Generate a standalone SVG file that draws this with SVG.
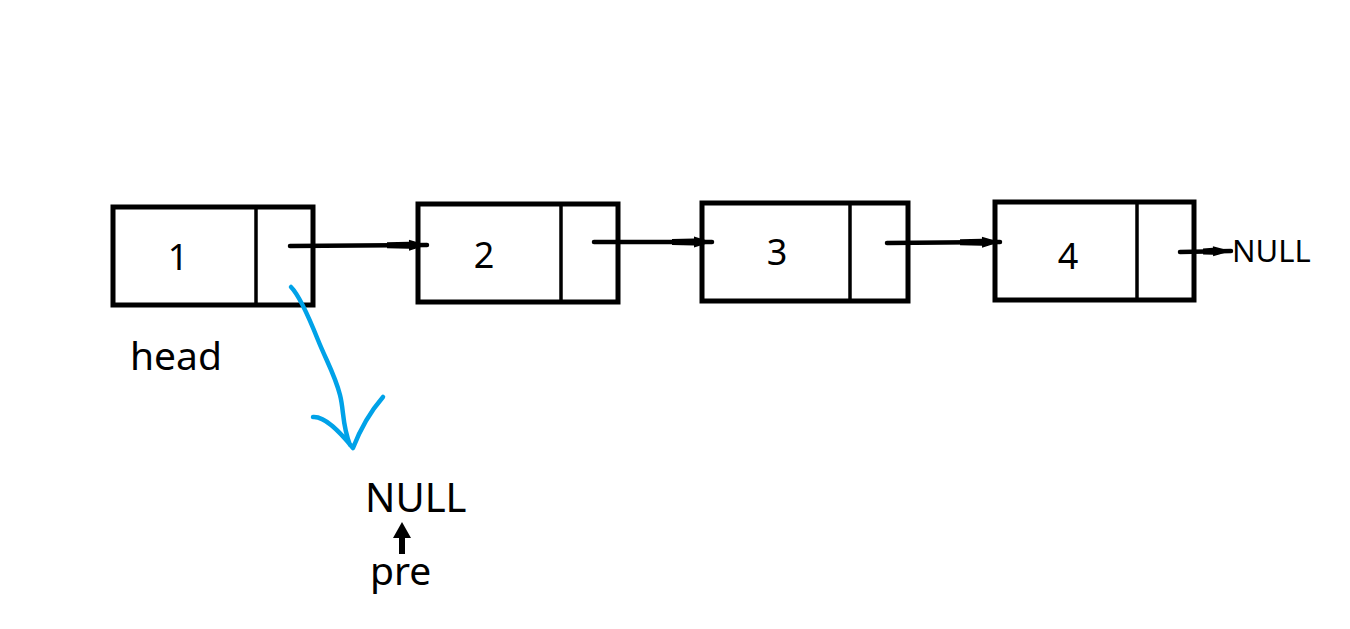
<svg xmlns="http://www.w3.org/2000/svg" width="1350" height="629" viewBox="0 0 1350 629">
<style>
.box{fill:#fff;stroke:#000;stroke-width:5}
.div{stroke:#000;stroke-width:3.5}
.t{font-family:"Noto Sans","Open Sans",sans-serif;fill:#000}
.num{font-size:36px;text-anchor:middle}
.ln{stroke:#000;stroke-width:4.5;stroke-linecap:round;fill:none}
.blue{stroke:#00a2e8;stroke-width:4.5;stroke-linecap:round;stroke-linejoin:round;fill:none}
</style>
<defs>
<marker id="ah" viewBox="0 0 40 14" refX="40" refY="7" markerWidth="40" markerHeight="14" markerUnits="userSpaceOnUse" orient="auto">
<path d="M0,4 L22,3.5 L22,1.5 L40,7 L22,12.5 L22,10.5 L0,10 Z" fill="#000"/>
</marker>
<marker id="ahs" viewBox="0 0 28 14" refX="28" refY="7" markerWidth="28" markerHeight="14" markerUnits="userSpaceOnUse" orient="auto">
<path d="M0,4 L10,3.5 L10,2 L28,7 L10,12 L10,10.5 L0,10 Z" fill="#000"/>
</marker>
</defs>
<g id="node1">
<rect class="box" x="113" y="207" width="200" height="98"/>
<line class="div" x1="256" y1="207" x2="256" y2="307"/>
<text class="t num" x="178" y="270">1</text>
</g>
<g id="node2">
<rect class="box" x="418" y="204" width="200" height="98"/>
<line class="div" x1="561" y1="204" x2="561" y2="302"/>
<text class="t num" x="484" y="268">2</text>
</g>
<g id="node3">
<rect class="box" x="702" y="203" width="206" height="98"/>
<line class="div" x1="850" y1="203" x2="850" y2="303"/>
<text class="t num" x="777" y="265">3</text>
</g>
<g id="node4">
<rect class="box" x="995" y="202" width="199" height="98"/>
<line class="div" x1="1137" y1="202" x2="1137" y2="302"/>
<text class="t num" x="1068" y="269">4</text>
</g>
<g id="labels">
<text class="t" x="130" y="370" font-size="39">head</text>
<text class="t" x="1232" y="262" font-size="31">NULL</text>
<text class="t" x="365" y="512" font-size="40">NULL</text>
<text class="t" x="370" y="585" font-size="39">pre</text>
</g>
<g id="connectors">
<line class="ln" x1="290" y1="246" x2="427" y2="245" marker-end="url(#ah)"/>
<line class="ln" x1="594" y1="242" x2="712" y2="242" marker-end="url(#ah)"/>
<line class="ln" x1="887" y1="243" x2="1000" y2="242" marker-end="url(#ah)"/>
<line class="ln" x1="1180" y1="252" x2="1231" y2="251" marker-end="url(#ahs)"/>
<line stroke="#000" stroke-width="6" x1="402" y1="554" x2="402" y2="535"/>
<path d="M393,538 L402,522 L411,538 Z" fill="#000"/>
<path class="blue" d="M291,287 C300,296 310,320 318,340 C326,360 335,375 340,395 C344,410 342,425 350,445 M313,417 C325,416 340,432 353,448 C360,430 370,412 383,397"/>
</g>
</svg>
